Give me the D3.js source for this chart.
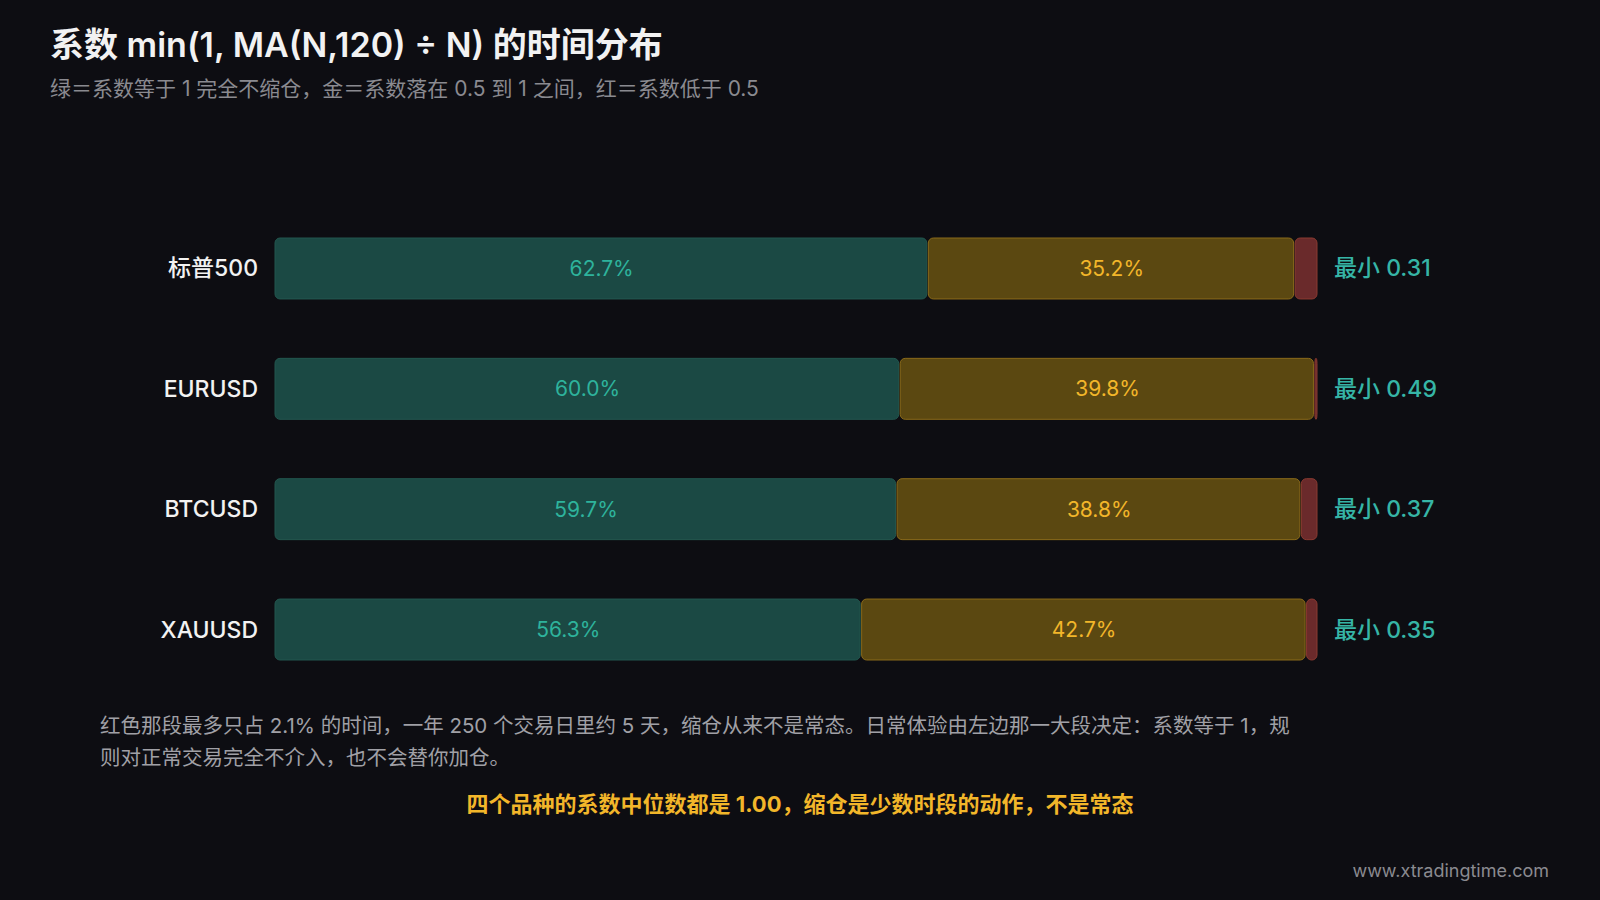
<!DOCTYPE html>
<html><head><meta charset="utf-8">
<script src="https://cdn.jsdelivr.net/npm/d3@7"></script>
<style>body{margin:0;background:#0d0d12;}svg{display:block;font-family:Inter,"Noto Sans CJK SC",sans-serif;}</style>
</head><body><svg id="c" width="1600" height="900"></svg>
<script>
var names = ["标普500", "EURUSD", "BTCUSD", "XAUUSD"];
var greenPct = [62.7, 60.0, 59.7, 56.3];
var goldPct = [35.2, 39.8, 38.8, 42.7];
var redPct = [2.1, 0.2, 1.5, 1.0];
var minVals = ["0.31", "0.49", "0.37", "0.35"];

var svg = d3.select("#c");
svg.append("rect").attr("width", 1600).attr("height", 900).attr("fill", "#0d0d12");

svg.append("text").attr("x", 50).attr("y", 57).attr("fill", "#f2f2f2")
    .attr("font-size", 34).attr("font-weight", 600).text("系数 min(1, MA(N,120) ÷ N) 的时间分布");
svg.append("text").attr("x", 50).attr("y", 96).attr("fill", "#8a8a90")
    .attr("font-size", 21).text("绿＝系数等于 1 完全不缩仓，金＝系数落在 0.5 到 1 之间，红＝系数低于 0.5");

var x = d3.scaleLinear().domain([0, 100]).range([275, 1317]);
var y = d3.scaleBand().domain(names).range([238, 660]).paddingInner(0.4934).paddingOuter(0);

var segFill = ["#1b4944", "#5b4811", "#6a2a2b"];
var segEdge = ["#23574f", "#8a6a1a", "#8a3a30"];
var segText = ["#2eb39c", "#f2b62a", "#e06666"];

names.forEach(function (n, i) {
    var vals = [greenPct[i], goldPct[i], redPct[i]];
    var g = svg.append("g");
    var acc = 0;
    vals.forEach(function (v, k) {
        var x0 = x(acc), x1 = x(acc + v);
        acc += v;
        g.append("rect").attr("x", x0).attr("y", y(n))
            .attr("width", Math.max(1.5, x1 - x0 - (k < 2 ? 1.5 : 0)))
            .attr("height", y.bandwidth()).attr("rx", 5)
            .attr("fill", segFill[k]).attr("stroke", segEdge[k]).attr("stroke-width", 1);
        if (v > 10) {
            g.append("text").attr("x", (x0 + x1) / 2).attr("y", y(n) + y.bandwidth() / 2)
                .attr("text-anchor", "middle").attr("dominant-baseline", "central")
                .attr("fill", segText[k]).attr("font-size", 21).text(v.toFixed(1) + "%");
        }
    });
    svg.append("text").attr("x", 258).attr("y", y(n) + y.bandwidth() / 2)
        .attr("text-anchor", "end").attr("dominant-baseline", "central")
        .attr("fill", "#f2f2f2").attr("font-size", 23).attr("font-weight", 500).text(n);
    svg.append("text").attr("x", 1334).attr("y", y(n) + y.bandwidth() / 2)
        .attr("dominant-baseline", "central")
        .attr("fill", "#36b5a6").attr("font-size", 23).attr("font-weight", 500).text("最小 " + minVals[i]);
});

svg.append("text").attr("x", 100).attr("y", 733).attr("fill", "#a0a0a6").attr("font-size", 20.5)
    .text("红色那段最多只占 2.1% 的时间，一年 250 个交易日里约 5 天，缩仓从来不是常态。日常体验由左边那一大段决定：系数等于 1，规");
svg.append("text").attr("x", 100).attr("y", 765).attr("fill", "#a0a0a6").attr("font-size", 20.5)
    .text("则对正常交易完全不介入，也不会替你加仓。");
svg.append("text").attr("x", 800).attr("y", 812).attr("text-anchor", "middle").attr("fill", "#f2b62a")
    .attr("font-size", 22).attr("font-weight", 700).text("四个品种的系数中位数都是 1.00，缩仓是少数时段的动作，不是常态");
svg.append("text").attr("x", 1549).attr("y", 877).attr("text-anchor", "end").attr("fill", "#8a8a90")
    .attr("font-size", 18).text("www.xtradingtime.com");
</script></body></html>
